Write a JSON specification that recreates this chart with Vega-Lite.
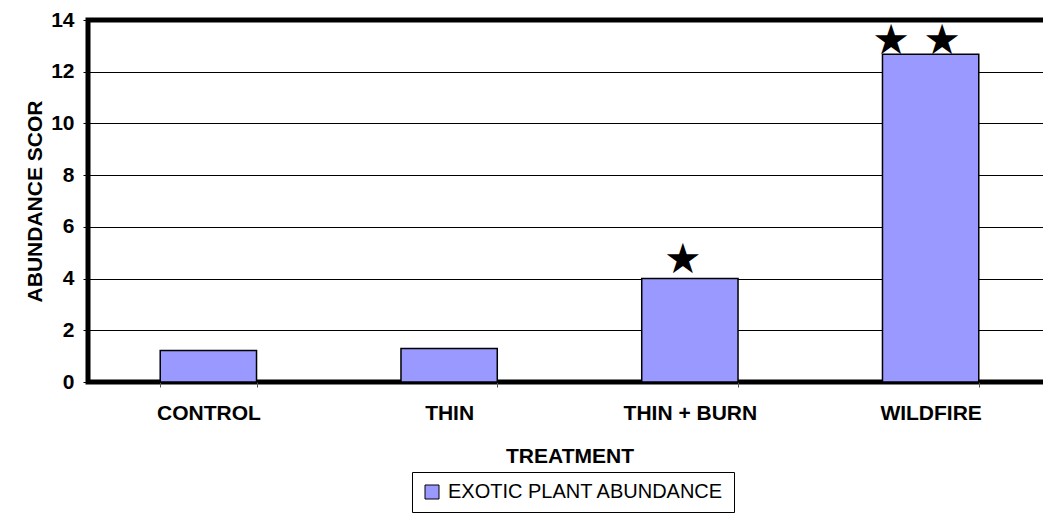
{
  "$schema": "https://vega.github.io/schema/vega-lite/v6.json",
  "width": 963,
  "height": 362,
  "autosize": {"type": "none"},
  "padding": {"left": 88, "top": 20, "right": 0, "bottom": 131},
  "background": "white",
  "config": {
    "font": "Liberation Sans",
    "view": {"stroke": "black", "strokeWidth": 5},
    "axis": {"labelColor": "black", "titleColor": "black"}
  },
  "data": {
    "values": [
      {"treatment": "CONTROL", "abundance": 1.22, "stars": "", "series": "EXOTIC PLANT ABUNDANCE"},
      {"treatment": "THIN", "abundance": 1.3, "stars": "", "series": "EXOTIC PLANT ABUNDANCE"},
      {"treatment": "THIN + BURN", "abundance": 4.0, "stars": "★", "series": "EXOTIC PLANT ABUNDANCE"},
      {"treatment": "WILDFIRE", "abundance": 12.68, "stars": "★ ★", "series": "EXOTIC PLANT ABUNDANCE"}
    ]
  },
  "encoding": {
    "x": {
      "field": "treatment",
      "type": "nominal",
      "sort": null,
      "scale": {"paddingInner": 0.6, "paddingOuter": 0.3},
      "axis": {
        "title": "TREATMENT",
        "labelAngle": 0,
        "tickBand": "extent",
        "domain": false,
        "tickColor": "#555555",
        "tickSize": 5,
        "labelFontSize": 21,
        "labelFontWeight": "bold",
        "labelPadding": 15,
        "titleFontSize": 21,
        "titleFontWeight": "bold",
        "titlePadding": 22
      }
    }
  },
  "layer": [
    {
      "mark": {"type": "bar", "stroke": "black", "strokeWidth": 1.5},
      "encoding": {
        "y": {
          "field": "abundance",
          "type": "quantitative",
          "scale": {"domain": [0, 14], "nice": false},
          "axis": {
            "values": [0, 2, 4, 6, 8, 10, 12, 14],
            "title": "ABUNDANCE SCOR",
            "grid": true,
            "gridColor": "black",
            "gridWidth": 1,
            "gridOpacity": 1,
            "domain": false,
            "tickColor": "black",
            "tickSize": 5,
            "labelFontSize": 21,
            "labelFontWeight": "bold",
            "labelPadding": 9,
            "titleFontSize": 21,
            "titleFontWeight": "bold",
            "titlePadding": 5
          }
        },
        "fill": {
          "field": "series",
          "type": "nominal",
          "scale": {"range": ["#9999ff"]},
          "legend": {
            "orient": "none",
            "legendX": 324,
            "legendY": 452,
            "title": null,
            "strokeColor": "black",
            "fillColor": "white",
            "padding": 10,
            "cornerRadius": 0,
            "symbolType": "square",
            "symbolSize": 196,
            "symbolStrokeColor": "black",
            "symbolStrokeWidth": 1,
            "labelFontSize": 20,
            "labelColor": "black",
            "labelOffset": 6,
            "labelLimit": 400
          }
        }
      }
    },
    {
      "transform": [{"filter": "datum.stars === '★'"}],
      "mark": {"type": "text", "font": "DejaVu Sans", "fontSize": 42, "baseline": "middle", "dy": -19, "dx": -7, "color": "black"},
      "encoding": {
        "y": {"field": "abundance", "type": "quantitative"},
        "text": {"field": "stars"}
      }
    },
    {
      "transform": [{"filter": "datum.stars === '★ ★'"}],
      "mark": {"type": "text", "font": "DejaVu Sans", "fontSize": 42, "baseline": "middle", "dy": -13, "dx": -14, "color": "black"},
      "encoding": {
        "y": {"field": "abundance", "type": "quantitative"},
        "text": {"field": "stars"}
      }
    }
  ]
}
